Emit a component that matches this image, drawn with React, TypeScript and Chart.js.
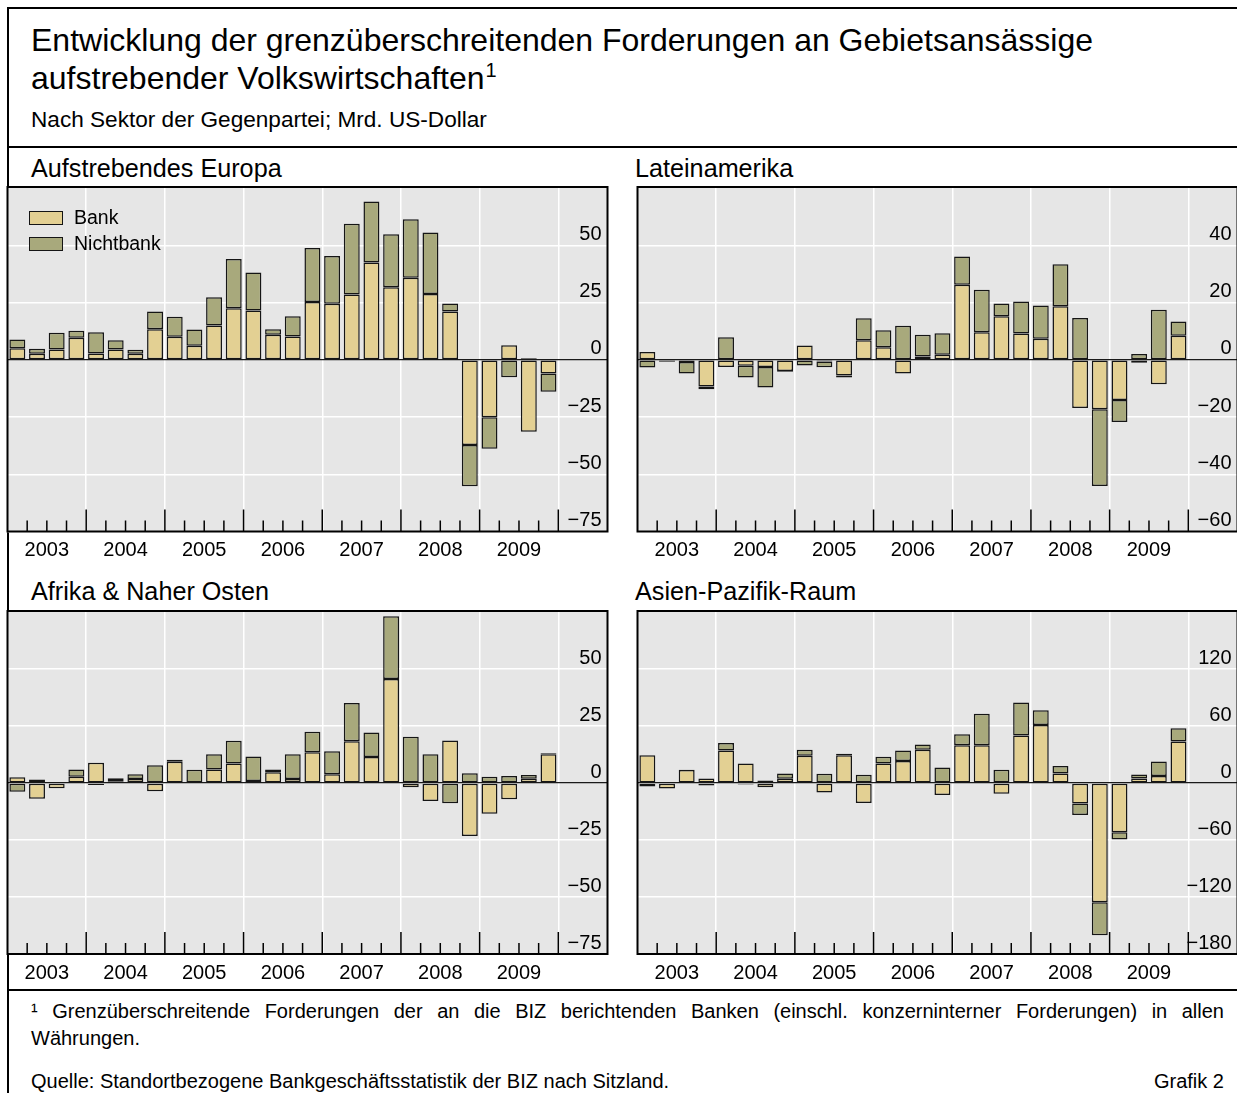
import React, { useEffect, useRef } from 'react';
import { Chart, registerables } from 'chart.js';

Chart.register(...registerables);

// ---------- data ----------
const YEARS = ['2003', '2004', '2005', '2006', '2007', '2008', '2009'];
const QUARTERS = 28; // 2003 Q1 .. 2009 Q4
const X_MAX = 30.5; // extra room on the right for the value labels

const europeBank = [5.1, 2.6, 4.5, 9.6, 2.8, 4.5, 2.6, 13.4, 10.1, 6.1, 15.0, 22.5, 21.5, 10.9, 10.2, 25.3, 24.5, 28.5, 42.5, 31.7, 35.9, 28.8, 21.1, -37.2, -25.1, 6.4, -31.4, -6.0];
const europeNonBank = [3.8, 2.2, 7.3, 3.1, 9.2, 4.0, 1.8, 7.7, 8.7, 7.2, 12.3, 21.6, 16.6, 2.5, 8.8, 23.6, 20.9, 30.9, 26.7, 23.2, 25.5, 26.8, 3.5, -18.0, -13.7, -7.6, 0.7, -7.9];

const latamBank = [2.7, -0.2, -0.8, -9.3, -2.5, -2.1, -2.5, -3.9, 5.0, -0.6, -5.5, 6.8, 4.4, -4.8, 1.2, 1.8, 26.2, 9.6, 15.2, 9.2, 7.4, 18.7, -16.8, -17.3, -14.0, -1.0, -8.5, 8.4];
const latamNonBank = [-2.7, -0.5, -4.0, -1.0, 7.9, -4.1, -7.2, -0.3, -2.0, -2.0, -0.7, 7.7, 5.9, 11.9, 7.6, 7.5, 9.9, 14.9, 4.5, 11.2, 11.6, 14.7, 14.6, -26.8, -7.7, 2.0, 17.5, 5.0];

const africaBank = [2.5, -6.9, -2.3, 2.8, 8.9, 0.8, 1.8, -3.6, 9.3, 0.3, 6.0, 8.6, 0.9, 4.7, 1.8, 13.5, 3.9, 18.4, 11.4, 45.7, -1.8, -7.9, 18.7, -23.2, -13.5, -7.1, 1.9, 12.7];
const africaNonBank = [-3.8, 1.6, 0.3, 3.2, -0.9, 1.3, 2.1, 7.8, 0.9, 5.5, 6.7, 10.0, 10.8, 1.3, 10.9, 9.0, 10.1, 16.7, 10.8, 27.5, 20.3, 12.6, -8.9, 4.3, 2.8, 3.1, 1.6, 0.4];

const asiaBank = [29.2, -5.6, 13.7, 4.9, 34.4, 20.7, -4.5, 4.6, 28.7, -9.8, 29.2, -21.1, 20.7, 23.2, 35.1, -12.6, 39.7, 39.7, -11.2, 50.2, 61.1, 10.2, -21.4, -125.6, -51.9, 4.9, 7.4, 43.9];
const asiaNonBank = [-3.5, 0.8, 0.3, -2.5, 7.7, -1.4, 2.8, 5.6, 6.4, 9.8, 1.6, 8.8, 7.0, 11.2, 5.6, 16.5, 11.6, 33.2, 14.0, 34.7, 15.7, 7.7, -12.3, -34.7, -7.4, 4.2, 15.4, 13.7];

const STEP_EUROPE = 25;
const STEP_LATAM = 20;
const STEP_AFRICA = 25;
const STEP_ASIA = 60;
const Y_TICK_STEPS = [-3, -2, -1, 0, 1, 2];

// ---------- styles ----------
const BANK_COLOR = '#e3d093';
const NONBANK_COLOR = '#a8a97c';
const BAR_BORDER = '#151515';
const PANEL_BG = '#e6e6e6';
const FONT = '"Liberation Sans", Arial, Helvetica, sans-serif';

const panelPlugin = {
  id: 'panelDeco',
  beforeDraw(chart: any) {
    const { ctx, chartArea: a } = chart;
    ctx.save();
    ctx.fillStyle = PANEL_BG;
    ctx.fillRect(a.left, a.top, a.right - a.left, a.bottom - a.top);
    ctx.restore();
  },
  afterDraw(chart: any) {
    const { ctx, chartArea: a } = chart;
    const xs = chart.scales.x;
    ctx.save();
    ctx.strokeStyle = '#000';
    ctx.lineWidth = 1.5;
    for (let k = 1; k <= QUARTERS; k++) {
      const px = xs.getPixelForValue(k);
      const len = k % 4 === 0 ? 22 : 11;
      ctx.beginPath();
      ctx.moveTo(px, a.bottom);
      ctx.lineTo(px, a.bottom - len);
      ctx.stroke();
    }
    ctx.lineWidth = 2;
    ctx.strokeRect(a.left, a.top, a.right - a.left, a.bottom - a.top);
    ctx.restore();
  },
};

function fmt(v: number) {
  return v < 0 ? '\u2212' + Math.abs(v) : String(v);
}

function PanelChart(props: { bank: number[]; nonBank: number[]; step: number; left: number; top: number; padBottom: number }) {
  const { bank, nonBank, step, left, top, padBottom } = props;
  const ref = useRef<HTMLCanvasElement | null>(null);
  useEffect(() => {
    const chart = new Chart(ref.current as HTMLCanvasElement, {
      type: 'bar',
      data: {
        datasets: [
          {
            label: 'Bank',
            data: bank.map((v, i) => ({ x: i + 0.5, y: v })),
            backgroundColor: BANK_COLOR,
            borderColor: BAR_BORDER,
            borderWidth: 1.5,
            borderSkipped: false,
          },
          {
            label: 'Nichtbank',
            data: nonBank.map((v, i) => ({ x: i + 0.5, y: v })),
            backgroundColor: NONBANK_COLOR,
            borderColor: BAR_BORDER,
            borderWidth: 1.5,
            borderSkipped: false,
          },
        ],
      } as any,
      options: {
        animation: false,
        responsive: false,
        maintainAspectRatio: false,
        layout: { padding: { left: 2.5, right: 2.5, top: 3, bottom: padBottom }, autoPadding: false },
        plugins: { legend: { display: false }, tooltip: { enabled: false } },
        datasets: { bar: { categoryPercentage: 1, barPercentage: 0.81 } },
        scales: {
          x: {
            type: 'linear',
            min: 0,
            max: X_MAX,
            stacked: true,
            offset: false,
            afterBuildTicks: (s: any) => {
              s.ticks = Array.from({ length: QUARTERS + 1 }, (_, k) => ({ value: k }));
            },
            afterFit: (s: any) => {
              s.height = 36;
              s.paddingLeft = 0;
              s.paddingRight = 0;
            },
            grid: {
              offset: false,
              drawTicks: false,
              lineWidth: 1.5,
              color: (c: any) => (c.tick && c.tick.value % 4 === 0 && c.tick.value > 0 ? '#ffffff' : 'rgba(0,0,0,0)'),
            },
            border: { display: false },
            ticks: {
              autoSkip: false,
              maxRotation: 0,
              padding: 7,
              color: '#000',
              font: { family: FONT, size: 20 },
              callback: (v: any) => (v % 4 === 2 && v < QUARTERS ? YEARS[(v - 2) / 4] : ''),
            },
          },
          y: {
            type: 'linear',
            position: 'right',
            min: -3 * step,
            max: 3.02 * step,
            stacked: true,
            afterBuildTicks: (s: any) => {
              s.ticks = Y_TICK_STEPS.map((k) => ({ value: k * step }));
            },
            afterFit: (s: any) => {
              s.width = 0;
              s.paddingTop = 0;
              s.paddingBottom = 0;
            },
            grid: {
              drawTicks: false,
              lineWidth: (c: any) => (c.tick && c.tick.value === 0 ? 1.3 : 1.5),
              color: (c: any) => (c.tick && c.tick.value === 0 ? '#1a1a1a' : '#ffffff'),
            },
            border: { display: false },
            ticks: {
              mirror: true,
              padding: -6,
              labelOffset: -11,
              color: '#000',
              font: { family: FONT, size: 20 },
              callback: (v: any) => fmt(v),
            },
          },
        },
      } as any,
      plugins: [panelPlugin],
    });
    return () => chart.destroy();
  }, []);
  return (
    <canvas
      ref={ref}
      width={605}
      height={384}
      style={{ position: 'absolute', left, top, width: 605, height: 384 }}
    />
  );
}

function T(props: { x: number; base: number; size: number; children: any; style?: any }) {
  const { x, base, size, children, style } = props;
  return (
    <div
      style={{
        position: 'absolute',
        left: x,
        top: base - 0.8465 * size,
        fontSize: size,
        lineHeight: size + 'px',
        whiteSpace: 'nowrap',
        ...style,
      }}
    >
      {children}
    </div>
  );
}

function Line(props: { x: number; y: number; w: number; h: number }) {
  return <div style={{ position: 'absolute', left: props.x, top: props.y, width: props.w, height: props.h, background: '#000' }} />;
}

export default function App() {
  useEffect(() => {
    document.documentElement.style.overflow = 'hidden';
    document.body.style.overflow = 'hidden';
  }, []);
  const legendBox = (color: string) => ({
    position: 'absolute' as const,
    width: 34,
    height: 14,
    boxSizing: 'border-box' as const,
    border: '1.5px solid ' + BAR_BORDER,
    background: color,
  });
  return (
    <div
      style={{
        position: 'absolute',
        left: 0,
        top: 0,
        width: 1237,
        height: 1093,
        overflow: 'hidden',
        background: '#fff',
        fontFamily: FONT,
        color: '#000',
      }}
    >
      <Line x={7} y={7} w={1240} h={2} />
      <Line x={7} y={7} w={2} h={1100} />
      <Line x={7} y={146} w={1240} h={2} />
      <Line x={7} y={989} w={1240} h={2} />

      <T x={31} base={51} size={32}>Entwicklung der grenzüberschreitenden Forderungen an Gebietsansässige</T>
      <T x={31} base={89} size={32}>
        aufstrebender Volkswirtschaften
        <span style={{ fontSize: 20, position: 'relative', top: -12, marginLeft: 1 }}>1</span>
      </T>
      <T x={31} base={128} size={22.6}>Nach Sektor der Gegenpartei; Mrd. US-Dollar</T>

      <T x={31} base={177} size={25.2}>Aufstrebendes Europa</T>
      <T x={635} base={177} size={25.2}>Lateinamerika</T>
      <T x={31} base={600} size={25.2}>Afrika &amp; Naher Osten</T>
      <T x={635} base={600} size={25.2}>Asien-Pazifik-Raum</T>

      <PanelChart bank={europeBank} nonBank={europeNonBank} step={STEP_EUROPE} left={5} top={184} padBottom={0.5} />
      <PanelChart bank={latamBank} nonBank={latamNonBank} step={STEP_LATAM} left={635} top={184} padBottom={0.5} />
      <PanelChart bank={africaBank} nonBank={africaNonBank} step={STEP_AFRICA} left={5} top={608} padBottom={2} />
      <PanelChart bank={asiaBank} nonBank={asiaNonBank} step={STEP_ASIA} left={635} top={608} padBottom={2} />

      <div style={{ ...legendBox(BANK_COLOR), left: 29, top: 211 }} />
      <div style={{ ...legendBox(NONBANK_COLOR), left: 29, top: 237 }} />
      <T x={74} base={225} size={19.5}>Bank</T>
      <T x={74} base={251} size={19.5}>Nichtbank</T>

      <div
        style={{
          position: 'absolute',
          left: 31,
          top: 1018 - 0.8465 * 20,
          width: 1193,
          fontSize: 20,
          lineHeight: '20px',
          textAlign: 'justify',
          textAlignLast: 'justify' as any,
          whiteSpace: 'nowrap',
        }}
      >
        ¹ Grenzüberschreitende Forderungen der an die BIZ berichtenden Banken (einschl. konzerninterner Forderungen) in allen
      </div>
      <T x={31} base={1045} size={20}>Währungen.</T>
      <T x={31} base={1088} size={20}>Quelle: Standortbezogene Bankgeschäftsstatistik der BIZ nach Sitzland.</T>
      <div
        style={{
          position: 'absolute',
          right: 1237 - 1224,
          top: 1088 - 0.8465 * 20,
          fontSize: 20,
          lineHeight: '20px',
          whiteSpace: 'nowrap',
        }}
      >
        Grafik 2
      </div>
    </div>
  );
}
